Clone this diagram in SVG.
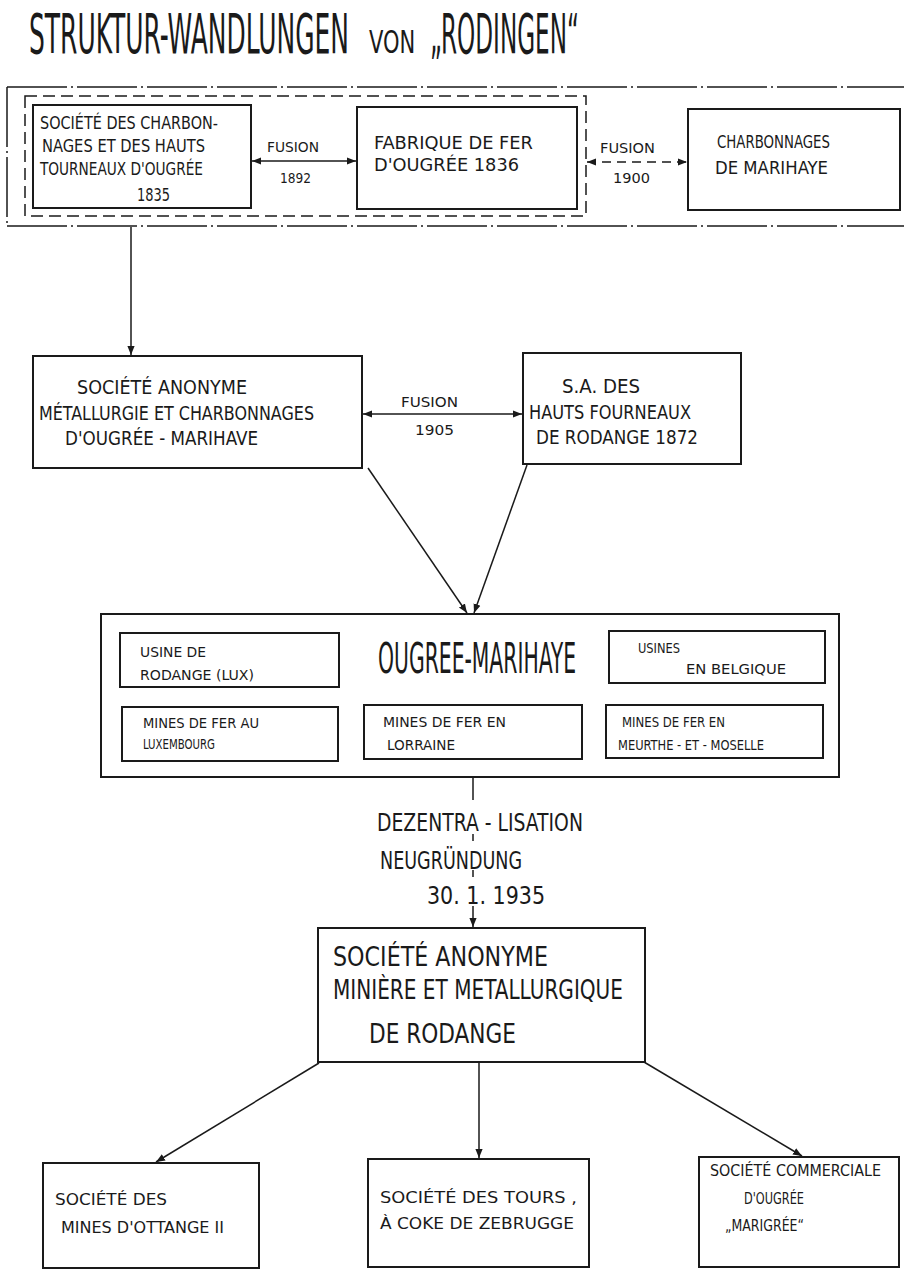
<svg xmlns="http://www.w3.org/2000/svg" width="904" height="1270" viewBox="0 0 904 1270">
<defs>
<marker id="ah" viewBox="0 0 10 10" refX="10" refY="5" markerWidth="9" markerHeight="9" markerUnits="userSpaceOnUse" orient="auto-start-reverse">
<path d="M0,1 L10,5 L0,9 Z" fill="#1a1a1a"/>
</marker>
<style>
text{font-family:"DejaVu Sans Condensed","Liberation Sans Narrow","Liberation Sans",sans-serif;fill:#1a1a1a}
.box{fill:none;stroke:#1a1a1a;stroke-width:2}
.ln{fill:none;stroke:#1a1a1a;stroke-width:1.5}
.s14{font-size:14px}
.s15{font-size:15px}
.s17{font-size:17px}
.s19{font-size:19px}
.s25{font-size:25px}
.s27{font-size:27px}
</style>
</defs>
<rect width="904" height="1270" fill="#ffffff"/>

<g id="title">
<text transform="matrix(0.5 0 0 1 29 53)" font-size="56" textLength="640" lengthAdjust="spacingAndGlyphs">STRUKTUR-WANDLUNGEN</text>
<text transform="matrix(0.7 0 0 1 369 53)" font-size="32" textLength="66" lengthAdjust="spacingAndGlyphs">VON</text>
<text transform="matrix(0.45 0 0 1 430 53)" font-size="56" textLength="331" lengthAdjust="spacingAndGlyphs">„RODINGEN“</text>
</g>

<g id="group-frames">
<path d="M7,87 H904 M7,226 H904 M7,87 V226" fill="none" stroke="#1a1a1a" stroke-width="1.5" stroke-dasharray="60,4,2,4"/>
<rect x="25" y="96" width="561" height="120" fill="none" stroke="#1a1a1a" stroke-width="1.5" stroke-dasharray="12,6"/>
</g>

<g id="n-ougree-1835">
<rect class="box" x="33" y="105" width="218" height="103"/>
<text class="s17" x="40" y="129" textLength="178" lengthAdjust="spacingAndGlyphs">SOCIÉTÉ DES CHARBON-</text>
<text class="s17" x="42" y="152" textLength="163" lengthAdjust="spacingAndGlyphs">NAGES ET DES HAUTS</text>
<text class="s17" x="40" y="175" textLength="163" lengthAdjust="spacingAndGlyphs">TOURNEAUX D'OUGRÉE</text>
<text class="s17" x="137" y="201" textLength="33" lengthAdjust="spacingAndGlyphs">1835</text>
</g>

<g id="n-fabrique">
<rect class="box" x="357" y="107" width="220" height="102"/>
<text class="s17" x="374" y="149" textLength="159" lengthAdjust="spacingAndGlyphs">FABRIQUE DE FER</text>
<text class="s17" x="374" y="171" textLength="145" lengthAdjust="spacingAndGlyphs">D'OUGRÉE   1836</text>
</g>

<g id="n-marihaye">
<rect class="box" x="688" y="109" width="212" height="101"/>
<text class="s17" x="717" y="148" textLength="113" lengthAdjust="spacingAndGlyphs">CHARBONNAGES</text>
<text class="s17" x="715" y="174" textLength="113" lengthAdjust="spacingAndGlyphs">DE  MARIHAYE</text>
</g>

<g id="n-sa-ougree-marihaye">
<rect class="box" x="33" y="356" width="329" height="112"/>
<text class="s19" x="77" y="394" textLength="170" lengthAdjust="spacingAndGlyphs">SOCIÉTÉ   ANONYME</text>
<text class="s19" x="39" y="420" textLength="275" lengthAdjust="spacingAndGlyphs">MÉTALLURGIE ET CHARBONNAGES</text>
<text class="s19" x="65" y="445" textLength="193" lengthAdjust="spacingAndGlyphs">D'OUGRÉE - MARIHAVE</text>
</g>

<g id="n-rodange-1872">
<rect class="box" x="523" y="353" width="218" height="111"/>
<text class="s19" x="562" y="393" textLength="78" lengthAdjust="spacingAndGlyphs">S.A. DES</text>
<text class="s19" x="529" y="419" textLength="162" lengthAdjust="spacingAndGlyphs">HAUTS FOURNEAUX</text>
<text class="s19" x="536" y="444" textLength="162" lengthAdjust="spacingAndGlyphs">DE RODANGE 1872</text>
</g>

<g id="n-ougree-marihaye">
<rect class="box" x="101" y="614" width="738" height="163"/>
<text transform="matrix(0.52 0 0 1 378 673)" font-size="43" textLength="381" lengthAdjust="spacingAndGlyphs">OUGREE-MARIHAYE</text>
</g>
<g id="n-usine-rodange">
<rect class="box" x="120" y="633" width="219" height="54"/>
<text class="s14" x="140" y="657" textLength="66" lengthAdjust="spacingAndGlyphs">USINE  DE</text>
<text class="s14" x="140" y="680" textLength="114" lengthAdjust="spacingAndGlyphs">RODANGE   (LUX)</text>
</g>
<g id="n-usines-belgique">
<rect class="box" x="609" y="631" width="216" height="52"/>
<text class="s14" x="638" y="653" textLength="42" lengthAdjust="spacingAndGlyphs">USINES</text>
<text class="s14" x="686" y="674" textLength="100" lengthAdjust="spacingAndGlyphs">EN  BELGIQUE</text>
</g>
<g id="n-mines-lux">
<rect class="box" x="122" y="707" width="216" height="54"/>
<text class="s14" x="143" y="728" textLength="116" lengthAdjust="spacingAndGlyphs">MINES DE FER AU</text>
<text class="s14" x="143" y="749" textLength="72" lengthAdjust="spacingAndGlyphs">LUXEMBOURG</text>
</g>
<g id="n-mines-lorraine">
<rect class="box" x="364" y="705" width="218" height="54"/>
<text class="s14" x="383" y="727" textLength="123" lengthAdjust="spacingAndGlyphs">MINES DE FER EN</text>
<text class="s14" x="387" y="750" textLength="68" lengthAdjust="spacingAndGlyphs">LORRAINE</text>
</g>
<g id="n-mines-meurthe">
<rect class="box" x="606" y="705" width="217" height="53"/>
<text class="s14" x="622" y="727" textLength="103" lengthAdjust="spacingAndGlyphs">MINES DE FER EN</text>
<text class="s14" x="618" y="750" textLength="146" lengthAdjust="spacingAndGlyphs">MEURTHE - ET - MOSELLE</text>
</g>

<g id="n-dezentralisation">
<text class="s25" x="377" y="831" textLength="206" lengthAdjust="spacingAndGlyphs">DEZENTRA - LISATION</text>
<text class="s25" x="380" y="869" textLength="142" lengthAdjust="spacingAndGlyphs">NEUGRÜNDUNG</text>
<text class="s25" x="427" y="904" textLength="118" lengthAdjust="spacingAndGlyphs">30. 1.  1935</text>
</g>

<g id="n-sa-miniere">
<rect class="box" x="318" y="928" width="327" height="134"/>
<text class="s27" x="333" y="966" textLength="215" lengthAdjust="spacingAndGlyphs">SOCIÉTÉ  ANONYME</text>
<text class="s27" x="333" y="999" textLength="290" lengthAdjust="spacingAndGlyphs">MINIÈRE ET METALLURGIQUE</text>
<text class="s27" x="369" y="1043" textLength="147" lengthAdjust="spacingAndGlyphs">DE  RODANGE</text>
</g>

<g id="n-ottange">
<rect class="box" x="43" y="1163" width="216" height="105"/>
<text class="s15" x="55" y="1205" textLength="112" lengthAdjust="spacingAndGlyphs">SOCIÉTÉ  DES</text>
<text class="s15" x="61" y="1233" textLength="163" lengthAdjust="spacingAndGlyphs">MINES  D'OTTANGE II</text>
</g>
<g id="n-zebrugge">
<rect class="box" x="368" y="1159" width="221" height="108"/>
<text class="s15" x="380" y="1203" textLength="197" lengthAdjust="spacingAndGlyphs">SOCIÉTÉ DES TOURS ,</text>
<text class="s15" x="380" y="1229" textLength="194" lengthAdjust="spacingAndGlyphs">À COKE DE ZEBRUGGE</text>
</g>
<g id="n-marigree">
<rect class="box" x="699" y="1157" width="200" height="110"/>
<text class="s15" x="710" y="1176" textLength="171" lengthAdjust="spacingAndGlyphs">SOCIÉTÉ  COMMERCIALE</text>
<text class="s15" x="744" y="1204" textLength="60" lengthAdjust="spacingAndGlyphs">D'OUGRÉE</text>
<text class="s15" x="725" y="1231" textLength="79" lengthAdjust="spacingAndGlyphs">„MARIGRÉE“</text>
</g>

<g id="connectors">
<line class="ln" x1="252" y1="161" x2="356" y2="161" marker-start="url(#ah)" marker-end="url(#ah)"/>
<text class="s14" x="267" y="152" textLength="52" lengthAdjust="spacingAndGlyphs">FUSION</text>
<text class="s14" x="280" y="183" textLength="31" lengthAdjust="spacingAndGlyphs">1892</text>
<line class="ln" x1="587" y1="162" x2="687" y2="162" stroke-dasharray="9,6" marker-start="url(#ah)" marker-end="url(#ah)"/>
<text class="s14" x="600" y="153" textLength="55" lengthAdjust="spacingAndGlyphs">FUSION</text>
<text class="s14" x="613" y="183" textLength="37" lengthAdjust="spacingAndGlyphs">1900</text>
<line class="ln" x1="131" y1="227" x2="131" y2="355" marker-end="url(#ah)"/>
<line class="ln" x1="363" y1="414" x2="522" y2="414" marker-start="url(#ah)" marker-end="url(#ah)"/>
<text class="s14" x="401" y="407" textLength="57" lengthAdjust="spacingAndGlyphs">FUSION</text>
<text class="s14" x="415" y="435" textLength="39" lengthAdjust="spacingAndGlyphs">1905</text>
<line class="ln" x1="368" y1="468" x2="467" y2="613" marker-end="url(#ah)"/>
<line class="ln" x1="527" y1="465" x2="474" y2="613" marker-end="url(#ah)"/>
<line class="ln" x1="473" y1="777" x2="473" y2="800"/>
<line class="ln" x1="473" y1="834" x2="473" y2="841"/>
<line class="ln" x1="473" y1="870" x2="473" y2="877"/>
<line class="ln" x1="473" y1="906" x2="473" y2="927" marker-end="url(#ah)"/>
<line class="ln" x1="319" y1="1063" x2="156" y2="1162" marker-end="url(#ah)"/>
<line class="ln" x1="479" y1="1063" x2="479" y2="1158" marker-end="url(#ah)"/>
<line class="ln" x1="644" y1="1062" x2="802" y2="1156" marker-end="url(#ah)"/>
</g>
</svg>
